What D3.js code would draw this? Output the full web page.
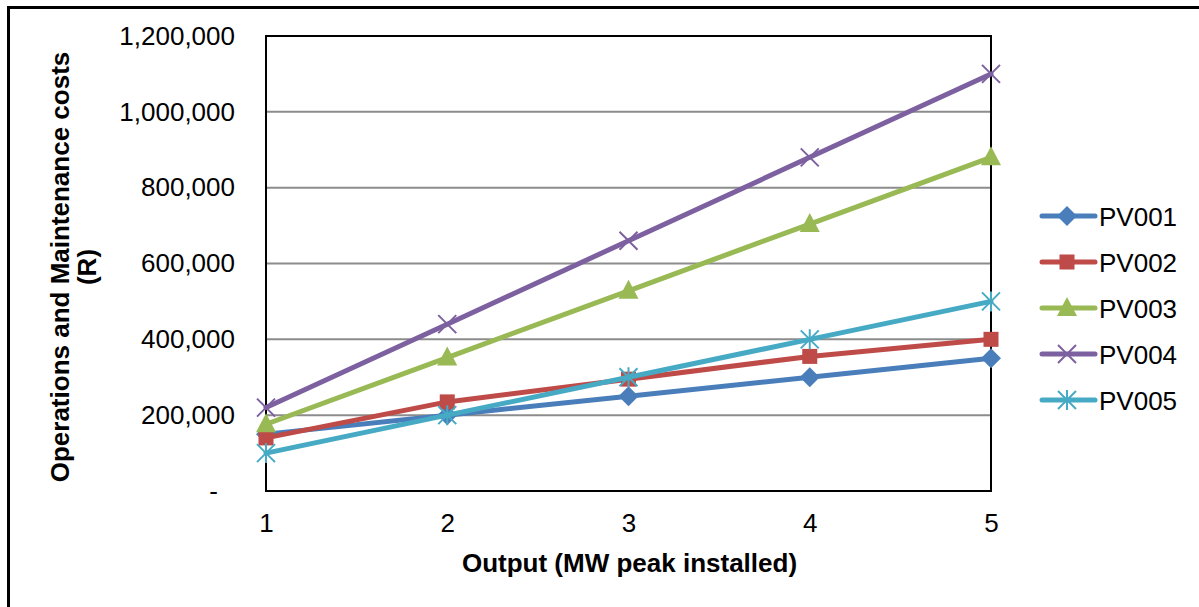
<!DOCTYPE html>
<html>
<head>
<meta charset="utf-8">
<script src="https://cdn.jsdelivr.net/npm/d3@7"></script>
<style>
  html, body { margin: 0; padding: 0; background: #fff; }
  svg { display: block; font-family: "Liberation Sans", Arial, sans-serif; }
</style>
</head>
<body>
<svg id="chart" width="1199" height="607"></svg>
<script>
// Installed capacity (MW peak) on the x axis
const outputs = [1, 2, 3, 4, 5];

// Operations and maintenance costs (R) per plant
const pv001 = [150000, 200000, 250000, 300000, 350000];
const pv002 = [140000, 235000, 295000, 355000, 400000];
const pv003 = [176000, 352000, 528000, 704000, 880000];
const pv004 = [220000, 440000, 660000, 880000, 1100000];
const pv005 = [100000, 200000, 300000, 400000, 500000];

const seriesNames = ["PV001", "PV002", "PV003", "PV004", "PV005"];
const yTicks = [0, 200000, 400000, 600000, 800000, 1000000, 1200000];

const seriesValues = [pv001, pv002, pv003, pv004, pv005];
const colors = ["#4A7EBB", "#BE4B48", "#98B954", "#7D60A0", "#46AAC5"];
const markers = ["diamond", "square", "triangle", "cross", "star"];

const FS = 26;
const svg = d3.select("#chart");

// outer frame
svg.append("path")
  .attr("d", "M8.5,607 L8.5,7.5 L1199,7.5")
  .attr("fill", "none").attr("stroke", "#000").attr("stroke-width", 3);

const plot = { left: 266, right: 991, top: 36, bottom: 491 };

const x = d3.scaleLinear().domain([1, 5]).range([plot.left, plot.right]);
const y = d3.scaleLinear().domain([0, 1200000]).range([plot.bottom, plot.top]);

// horizontal gridlines
svg.append("g")
  .selectAll("line")
  .data(yTicks)
  .join("line")
  .attr("x1", plot.left).attr("x2", plot.right)
  .attr("y1", d => y(d)).attr("y2", d => y(d))
  .attr("stroke", "#8c8c8c").attr("stroke-width", 2);

// y axis labels
const yAxis = svg.append("g")
  .attr("transform", `translate(${plot.left},0)`)
  .call(d3.axisLeft(y).tickValues(yTicks).tickSize(0).tickPadding(31)
    .tickFormat(d => d === 0 ? "-" : d3.format(",")(d)));
yAxis.select(".domain").remove();
yAxis.selectAll("text")
  .attr("font-size", FS).attr("fill", "#000")
  .attr("font-family", "Liberation Sans, Arial, sans-serif")
  .attr("dx", d => d === 0 ? -17 : 0);

// x axis labels
const xAxis = svg.append("g")
  .attr("transform", `translate(0,${plot.bottom})`)
  .call(d3.axisBottom(x).tickValues(outputs).tickSize(0).tickPadding(22.5)
    .tickFormat(d3.format("d")));
xAxis.select(".domain").remove();
xAxis.selectAll("text")
  .attr("font-size", FS).attr("fill", "#000")
  .attr("font-family", "Liberation Sans, Arial, sans-serif");

// plot area frame
svg.append("rect")
  .attr("x", plot.left).attr("y", plot.top)
  .attr("width", plot.right - plot.left).attr("height", plot.bottom - plot.top)
  .attr("fill", "none").attr("stroke", "#000").attr("stroke-width", 2);

// axis titles
svg.append("text")
  .attr("x", (plot.left + plot.right) / 2 + 1).attr("y", 572)
  .attr("text-anchor", "middle").attr("font-size", FS).attr("font-weight", "bold")
  .text("Output (MW peak installed)");

const yTitle = svg.append("text")
  .attr("transform", "rotate(-90)")
  .attr("text-anchor", "middle").attr("font-size", FS).attr("font-weight", "bold");
yTitle.append("tspan").attr("x", -267).attr("y", 69).text("Operations and Maintenance costs");
yTitle.append("tspan").attr("x", -267).attr("y", 96).text("(R)");

// marker drawing
function drawMarker(g, type, color) {
  if (type === "diamond") {
    g.append("path").attr("d", "M0,-10 L10,0 L0,10 L-10,0Z").attr("fill", color);
  } else if (type === "square") {
    g.append("rect").attr("x", -7.5).attr("y", -7.5).attr("width", 15).attr("height", 15).attr("fill", color);
  } else if (type === "triangle") {
    g.append("path").attr("d", "M0,-11 L10,8 L-10,8Z").attr("fill", color);
  } else if (type === "cross") {
    g.append("path").attr("d", "M-9,-9 L9,9 M-9,9 L9,-9")
      .attr("stroke", color).attr("stroke-width", 2).attr("fill", "none");
  } else if (type === "star") {
    g.append("path").attr("d", "M-9,-9 L9,9 M-9,9 L9,-9 M0,-10 L0,10")
      .attr("stroke", color).attr("stroke-width", 2).attr("fill", "none");
  }
}

const line = d3.line().x((d, i) => x(outputs[i])).y(d => y(d));

seriesValues.forEach((vals, si) => {
  const g = svg.append("g");
  g.append("path")
    .attr("d", line(vals))
    .attr("fill", "none").attr("stroke", colors[si]).attr("stroke-width", 5)
    .attr("stroke-linejoin", "round").attr("stroke-linecap", "round");
  vals.forEach((v, i) => {
    const m = g.append("g").attr("transform", `translate(${x(outputs[i])},${y(v)})`);
    drawMarker(m, markers[si], colors[si]);
  });
});

// legend
const legend = svg.append("g");
seriesNames.forEach((name, si) => {
  const ly = 216 + si * 46;
  const lg = legend.append("g").attr("transform", `translate(0,${ly})`);
  lg.append("line").attr("x1", 1042).attr("x2", 1095).attr("y1", 0).attr("y2", 0)
    .attr("stroke", colors[si]).attr("stroke-width", 5).attr("stroke-linecap", "round");
  const m = lg.append("g").attr("transform", "translate(1067,0)");
  drawMarker(m, markers[si], colors[si]);
  lg.append("text").attr("x", 1099).attr("y", 9.5)
    .attr("font-size", FS).attr("fill", "#000").text(name);
});
</script>
</body>
</html>
